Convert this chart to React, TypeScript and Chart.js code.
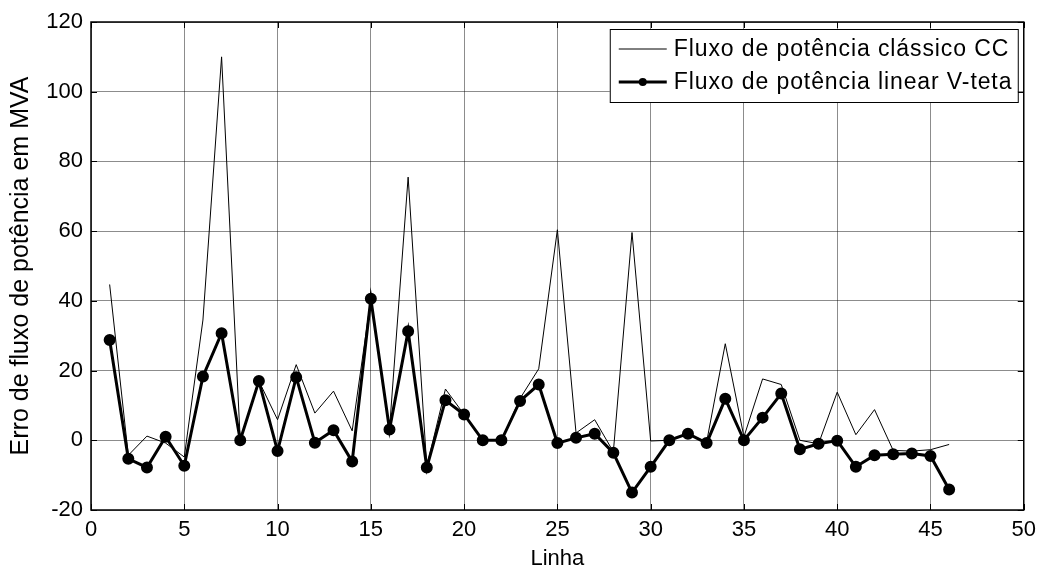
import React, { useEffect, useRef } from "react";
import { Chart, registerables } from "chart.js";

Chart.register(...registerables);

const linhas = Array.from({ length: 46 }, (_, i) => i + 1);

const classicoCC = [
  44.7, -4.3, 1.2, -0.8, -4.8, 34.5, 110.0, 0.0, 17.0, 5.9,
  21.7, 7.8, 14.1, 2.7, 40.6, 3.2, 75.5, -7.5, 14.7, 7.4,
  0.0, 0.0, 12.0, 20.5, 60.4, 2.1, 5.9, -3.3, 59.6, -0.2,
  0.0, 1.9, -0.5, 27.7, 1.0, 17.6, 16.0, 0.0, -1.0, 13.8,
  1.6, 8.8, -2.9, -3.1, -2.7, -1.2,
];

const linearVteta = [
  28.8, -5.3, -7.8, 1.0, -7.3, 18.3, 30.7, 0.0, 17.0, -3.1,
  18.1, -0.7, 2.9, -6.1, 40.6, 3.1, 31.3, -7.8, 11.5, 7.4,
  0.0, 0.0, 11.3, 16.0, -0.8, 0.7, 1.9, -3.6, -15.0, -7.6,
  0.0, 1.9, -0.8, 11.9, 0.0, 6.5, 13.4, -2.6, -1.0, -0.1,
  -7.6, -4.3, -4.0, -3.8, -4.5, -14.1,
];

const legendLabels = ["Fluxo de potência clássico CC", "Fluxo de potência linear V-teta"];
const xTitle = "Linha";
const yTitle = "Erro de fluxo de potência em MVA";

const FONT = "Arial, 'Liberation Sans', sans-serif";

const framePlugin = {
  id: "frame",
  afterDatasetsDraw(chart: any) {
    const { ctx, chartArea: a, scales } = chart;
    ctx.save();
    // inner ticks
    ctx.strokeStyle = "#000";
    ctx.lineWidth = 1;
    const tl = 6;
    ctx.beginPath();
    for (let v = 0; v <= 50; v += 5) {
      const x = Math.round(scales.x.getPixelForValue(v)) + 0.5;
      ctx.moveTo(x, a.bottom);
      ctx.lineTo(x, a.bottom - tl);
      ctx.moveTo(x, a.top);
      ctx.lineTo(x, a.top + tl);
    }
    for (let v = -20; v <= 120; v += 20) {
      const y = Math.round(scales.y.getPixelForValue(v)) + 0.5;
      ctx.moveTo(a.left, y);
      ctx.lineTo(a.left + tl, y);
      ctx.moveTo(a.right, y);
      ctx.lineTo(a.right - tl, y);
    }
    ctx.stroke();
    // box
    ctx.lineWidth = 1.5;
    ctx.strokeRect(a.left, a.top, a.right - a.left, a.bottom - a.top);

    // legend
    const bx = a.right - 414;
    const by = a.top + 7;
    const bw = 408;
    const bh = 73;
    ctx.fillStyle = "#fff";
    ctx.fillRect(bx, by, bw, bh);
    ctx.lineWidth = 1;
    ctx.strokeStyle = "#000";
    ctx.strokeRect(bx + 0.5, by + 0.5, bw, bh);
    const rows = [by + 20, by + 53];
    ctx.font = `23px ${FONT}`;
    try {
      (ctx as any).letterSpacing = "0.9px";
    } catch (e) {}
    ctx.textBaseline = "middle";
    ctx.textAlign = "left";
    rows.forEach((ry, i) => {
      ctx.beginPath();
      ctx.lineWidth = i === 0 ? 1 : 3;
      ctx.moveTo(bx + 9, ry);
      ctx.lineTo(bx + 57, ry);
      ctx.stroke();
      if (i === 1) {
        ctx.beginPath();
        ctx.arc(bx + 33, ry, 4, 0, Math.PI * 2);
        ctx.fillStyle = "#000";
        ctx.fill();
      }
      ctx.fillStyle = "#000";
      ctx.fillText(legendLabels[i], bx + 64, ry + 1);
    });
    ctx.restore();
  },
};

export default function App() {
  const ref = useRef<HTMLCanvasElement | null>(null);

  useEffect(() => {
    if (!ref.current) return;
    const chart = new Chart(ref.current, {
      type: "line",
      data: {
        datasets: [
          {
            label: legendLabels[0],
            data: linhas.map((x, i) => ({ x, y: classicoCC[i] })),
            borderColor: "#000",
            borderWidth: 1,
            pointRadius: 0,
            tension: 0,
          },
          {
            label: legendLabels[1],
            data: linhas.map((x, i) => ({ x, y: linearVteta[i] })),
            borderColor: "#000",
            backgroundColor: "#000",
            borderWidth: 3,
            pointRadius: 4.5,
            pointStyle: "circle",
            pointBackgroundColor: "#000",
            pointBorderColor: "#000",
            tension: 0,
          },
        ],
      },
      options: {
        animation: false,
        responsive: false,
        maintainAspectRatio: false,
        layout: { padding: { top: 22, right: 18, left: 0, bottom: 0 } },
        plugins: {
          legend: { display: false },
          tooltip: { enabled: false },
        },
        scales: {
          x: {
            type: "linear",
            min: 0,
            max: 50,
            border: { display: false },
            grid: { color: "rgba(0,0,0,0.45)", lineWidth: 1, drawTicks: false },
            ticks: {
              stepSize: 5,
              color: "#000",
              font: { family: FONT, size: 22 },
              padding: 7,
              maxRotation: 0,
            },
            title: {
              display: true,
              text: xTitle,
              color: "#000",
              font: { family: FONT, size: 22, lineHeight: 1 },
              padding: { top: 0, bottom: 0 },
            },
            afterFit(scale: any) {
              scale.height = 60;
            },
          },
          y: {
            type: "linear",
            min: -20,
            max: 120,
            border: { display: false },
            grid: { color: "rgba(0,0,0,0.45)", lineWidth: 1, drawTicks: false },
            ticks: {
              stepSize: 20,
              color: "#000",
              font: { family: FONT, size: 22 },
              padding: 8,
            },
            title: {
              display: true,
              text: yTitle,
              color: "#000",
              font: { family: FONT, size: 25, lineHeight: 1 },
              padding: { top: 9, bottom: 0 },
            },
            afterFit(scale: any) {
              scale.width = 91;
            },
          },
        },
      },
      plugins: [framePlugin],
    });
    return () => chart.destroy();
  }, []);

  return (
    <div style={{ position: "fixed", left: 0, top: 0, width: 1043, height: 570, background: "#fff" }}>
      <canvas ref={ref} width={1043} height={570} style={{ display: "block" }} />
    </div>
  );
}
